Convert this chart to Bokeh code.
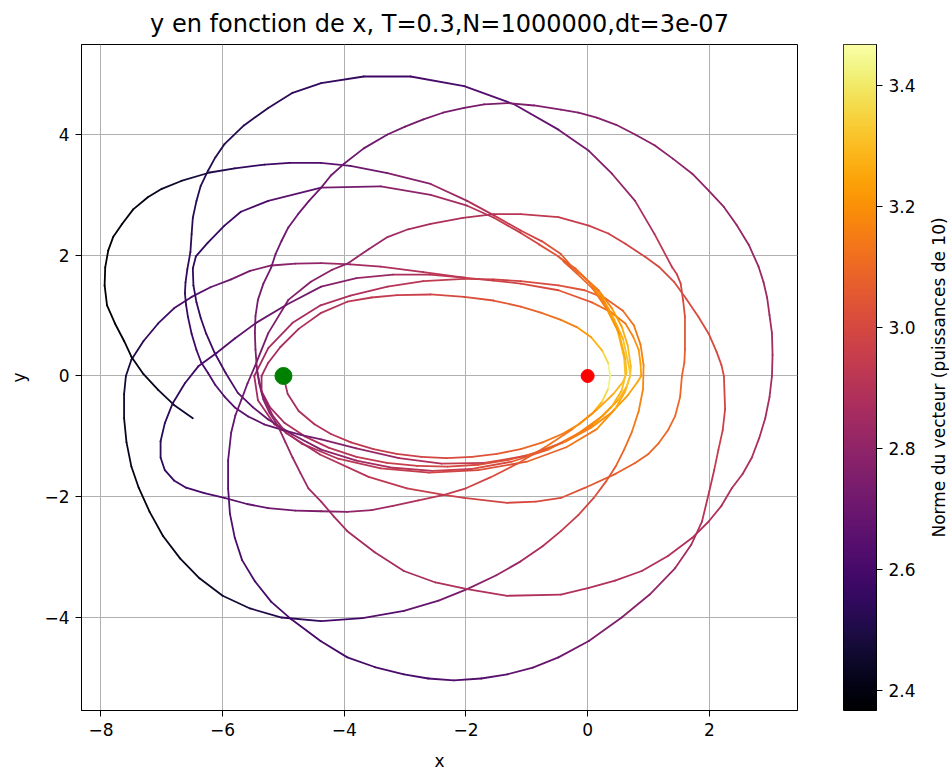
import math
import numpy as np
from bokeh.plotting import figure
from bokeh.models import Range1d, FixedTicker, ColumnDataSource
from bokeh.layouts import row
from bokeh.palettes import Inferno256
from bokeh.transform import linear_cmap
from bokeh.embed import file_html
from bokeh.resources import INLINE

title_text = "y en fonction de x, T=0.3,N=1000000,dt=3e-07"
cbar_label = "Norme du vecteur (puissances de 10)"
x_ticks = [-8, -6, -4, -2, 0, 2]
y_ticks = [-4, -2, 0, 2, 4]
cbar_ticks = [2.4, 2.6, 2.8, 3.0, 3.2, 3.4]
c_min, c_max = 2.367, 3.468

# ---- trajectory pieces: x, y, log10(speed) ----
inner_x = [-5.00,-4.93,-4.75,-4.49,-4.22,-3.89,-3.52,-3.14,-2.73,-2.32,-1.90,-1.49,-1.10,-0.74,-0.42,-0.14,0.08,0.24,0.34,0.37,
           0.34,0.24,0.06,-0.18,-0.44,-0.77,-1.10,-1.55,-2.03,-2.58,-3.13,-3.55,-3.95,-4.39,-4.75,-5.05,-5.25,-5.36,
           -5.36,-5.22,-4.98,-4.65,-4.25,-3.80,-3.30,-2.80,-2.30,-1.80,-1.30,-0.80,-0.35,0.05,0.40,0.66,0.82,0.88,
           0.87,0.84,0.75,0.62,0.38,0.07,-0.48,-1.10,-1.55,-2.03,-2.70,-3.40,-3.90,-4.38,-4.80,-5.20,
           -5.55,-5.86,-6.20,-6.51,-6.80,-7.06,-7.30,-7.50,-7.59,-7.62,-7.62,-7.58,-7.50,-7.38,-7.20,-6.98,-6.70,-6.38,-6.00,-5.55,-5.03,-4.38,-3.70,-3.02,-2.45,-1.98,-1.50,-1.10,-0.74,-0.44,-0.15,0.10,0.30,0.46,0.60,0.73,0.84,0.91,
           0.92,0.87,0.76,0.58,0.30,-0.05,-0.48,-1.10,-1.55,-2.03,-2.70,-3.29,-3.90,-4.39,-4.85,-5.25,-5.48]
inner_y = [0.00,-0.30,-0.58,-0.80,-0.96,-1.10,-1.21,-1.29,-1.34,-1.36,-1.34,-1.29,-1.21,-1.10,-0.96,-0.80,-0.62,-0.42,-0.21,0.00,
           0.21,0.42,0.64,0.81,0.93,1.05,1.15,1.25,1.31,1.35,1.34,1.30,1.23,1.04,0.78,0.48,0.22,0.00,
           -0.25,-0.52,-0.78,-1.00,-1.19,-1.34,-1.44,-1.49,-1.50,-1.47,-1.39,-1.26,-1.08,-0.86,-0.60,-0.32,-0.10,0.00,
           0.20,0.43,0.65,0.87,1.06,1.22,1.42,1.53,1.58,1.63,1.72,1.81,1.85,1.87,1.86,1.83,
           1.74,1.60,1.47,1.31,1.12,0.87,0.58,0.27,0.00,-0.30,-0.70,-1.10,-1.50,-1.85,-2.25,-2.65,-3.02,-3.35,-3.64,-3.85,-4.00,-4.06,-4.01,-3.89,-3.72,-3.53,-3.30,-3.07,-2.82,-2.57,-2.30,-2.02,-1.75,-1.50,-1.22,-0.92,-0.58,-0.22,
           0.18,0.52,0.84,1.08,1.28,1.42,1.50,1.57,1.60,1.61,1.57,1.48,1.33,1.17,0.88,0.46,0.00]
inner_v = [2.86,2.86,2.87,2.88,2.90,2.92,2.94,2.96,2.98,3.00,3.02,3.05,3.08,3.11,3.15,3.19,3.25,3.32,3.40,3.46,
           3.40,3.32,3.25,3.19,3.14,3.10,3.07,3.04,3.01,2.98,2.95,2.93,2.91,2.89,2.87,2.86,2.86,2.85,
           2.85,2.86,2.87,2.88,2.90,2.92,2.95,2.97,2.99,3.02,3.05,3.09,3.13,3.17,3.21,3.24,3.25,3.25,
           3.24,3.22,3.19,3.16,3.12,3.08,3.03,2.99,2.97,2.94,2.90,2.86,2.84,2.81,2.79,2.77,
           2.74,2.71,2.67,2.64,2.60,2.57,2.53,2.50,2.48,2.46,2.44,2.43,2.42,2.41,2.41,2.42,2.43,2.44,2.46,2.49,2.53,2.57,2.62,2.66,2.71,2.75,2.80,2.84,2.89,2.93,2.97,3.01,3.04,3.07,3.10,3.13,3.16,3.18,
           3.18,3.16,3.13,3.10,3.07,3.04,3.02,2.99,2.97,2.95,2.92,2.90,2.88,2.87,2.86,2.85,2.85]

arc_c_x = [-5.48,-5.42,-5.15,-4.70,-4.10,-3.40,-2.60,-1.80,-1.00,-0.35,0.15,0.45,0.62,0.70,0.71,0.66,0.56,0.40,0.18,-0.05,-0.26,-0.48,-0.80,-1.10,-1.54,-1.98,-2.58,-3.40,-4.38,-5.25,-5.70,-5.97,-6.25,-6.44,-6.49,-6.48,-6.43,-6.36,-6.27,-6.13,-5.95,-5.75,-5.50,-5.25,-4.85,-4.38,
           -3.80,-3.20,-2.55,-1.90,-1.25,-0.65,-0.15,0.25,0.50,0.64,0.70,0.68,0.58,0.40,0.18,-0.05,-0.26]
arc_c_y = [0.00,-0.40,-0.80,-1.12,-1.37,-1.53,-1.60,-1.56,-1.42,-1.18,-0.88,-0.55,-0.25,0.00,0.16,0.50,0.82,1.12,1.42,1.63,1.81,1.98,2.18,2.37,2.62,2.82,3.00,3.14,3.12,2.90,2.72,2.49,2.20,1.98,1.78,1.50,1.22,0.96,0.70,0.38,0.05,-0.28,-0.52,-0.72,-0.97,-1.22,
           -1.40,-1.52,-1.57,-1.54,-1.42,-1.22,-0.95,-0.66,-0.40,-0.18,0.00,0.16,0.62,1.02,1.40,1.63,1.81]
arc_c_v = [2.85,2.85,2.86,2.88,2.90,2.93,2.97,3.01,3.06,3.11,3.17,3.23,3.28,3.31,3.31,3.29,3.25,3.20,3.15,3.11,3.08,3.05,3.01,2.97,2.92,2.88,2.83,2.76,2.69,2.62,2.59,2.57,2.55,2.54,2.54,2.55,2.55,2.56,2.57,2.59,2.61,2.63,2.66,2.69,2.73,2.78,
           2.83,2.88,2.93,2.98,3.03,3.09,3.15,3.21,3.26,3.30,3.33,3.33,3.30,3.24,3.17,3.12,3.08]

last_x = [-0.26,-0.44,-0.75,-1.10,-1.54,-1.98,-2.58,-3.29,-3.90,-4.39,-4.90,-5.31,-5.80,-6.21,-6.68,-7.00,-7.23,-7.47,-7.65,-7.80,-7.88,-7.93,-7.94,-7.90,-7.77,-7.62,-7.50,-7.30,-7.06,-6.80,-6.49]
last_y = [1.81,2.02,2.23,2.41,2.66,2.90,3.18,3.36,3.48,3.53,3.53,3.50,3.44,3.37,3.23,3.10,2.96,2.76,2.52,2.30,2.08,1.80,1.50,1.17,0.87,0.58,0.32,0.03,-0.23,-0.48,-0.70]
last_v = [3.08,3.05,3.01,2.97,2.92,2.87,2.80,2.74,2.68,2.64,2.60,2.57,2.53,2.50,2.46,2.44,2.42,2.40,2.39,2.38,2.38,2.37,2.37,2.37,2.38,2.39,2.40,2.42,2.44,2.46,2.48]

loop_y_x = [-5.44,-5.35,-5.18,-4.95,-4.40,-3.60,-2.97,-2.36,-2.03,-1.32,-0.85,-0.44,-0.04,0.46,0.78,1.00,1.17,1.32,1.44,1.52,1.55,1.59,1.60,1.60,1.57,1.53,1.47,1.39,1.10,0.78,0.40,0.02,-0.48,-1.21,-2.03,-2.91,-3.68,-4.38,-4.85,-5.25,-5.65,-5.97,-6.12,-6.24,-6.36,-6.43,-6.49,-6.51,-6.53,-6.58,-6.61,-6.62,-6.60,-6.57,-6.51,-6.43,-6.35,-6.24,-6.12,-5.97,-5.80,-5.58,-5.32,-5.03,-4.70,-4.38,
            -3.80,-3.10,-2.40,-1.70,-1.00,-0.40,0.10,0.40,0.56,0.62,0.60,0.48,0.28,0.05,-0.20,-0.45]
loop_y_y = [0.10,-0.30,-0.65,-0.95,-1.30,-1.67,-1.86,-1.97,-2.02,-2.10,-2.08,-2.02,-1.85,-1.62,-1.44,-1.29,-1.11,-0.90,-0.66,-0.35,0.00,0.22,0.44,0.98,1.25,1.53,1.68,1.80,2.35,2.90,3.35,3.73,4.08,4.50,4.80,4.96,4.96,4.85,4.69,4.44,4.15,3.84,3.62,3.40,3.15,2.90,2.62,2.35,2.05,1.77,1.55,1.37,1.17,0.98,0.70,0.43,0.22,0.05,-0.15,-0.34,-0.52,-0.67,-0.80,-0.89,-0.98,-1.05,
            -1.20,-1.36,-1.45,-1.44,-1.32,-1.10,-0.80,-0.50,-0.24,0.00,0.30,0.80,1.20,1.53,1.78,1.95]
loop_y_v = [2.76,2.78,2.81,2.84,2.88,2.92,2.94,2.96,2.97,2.99,3.00,3.02,3.04,3.07,3.08,3.09,3.10,3.10,3.10,3.10,3.09,3.08,3.07,3.03,3.00,2.98,2.97,2.96,2.90,2.84,2.78,2.74,2.70,2.65,2.62,2.59,2.57,2.55,2.54,2.53,2.52,2.52,2.52,2.52,2.52,2.52,2.53,2.53,2.54,2.55,2.55,2.56,2.56,2.57,2.58,2.59,2.60,2.61,2.62,2.63,2.65,2.66,2.68,2.70,2.72,2.74,
            2.79,2.85,2.91,2.97,3.04,3.11,3.19,3.25,3.30,3.32,3.31,3.27,3.20,3.14,3.10,3.06]

loop_z_x = [-3.95,-3.60,-3.29,-2.95,-2.58,-2.05,-1.54,-1.10,-0.48,0.02,0.34,0.62,0.95,1.17,1.42,1.62,1.82,1.99,2.12,2.20,2.24,2.26,2.22,2.15,2.08,2.00,1.88,1.70,1.44,1.02,0.56,0.02,-0.48,-0.90,-1.32,-1.75,-2.20,-2.62,-3.02,-3.50,-3.95,-4.39,-4.87,-5.20,-5.47,-5.68,-5.80,-5.88,-5.91,-5.91,-5.86,-5.79,-5.69,-5.59,-5.47,-5.25,-4.92,-4.55,-4.20,-3.95]
loop_z_y = [1.86,2.10,2.30,2.43,2.52,2.62,2.68,2.68,2.63,2.49,2.36,2.19,1.97,1.81,1.56,1.28,0.98,0.70,0.40,0.18,0.00,-0.55,-0.90,-1.22,-1.56,-1.91,-2.41,-2.80,-3.18,-3.62,-4.00,-4.39,-4.66,-4.83,-4.94,-5.01,-5.04,-5.01,-4.94,-4.82,-4.66,-4.39,-4.03,-3.74,-3.40,-3.05,-2.68,-2.28,-1.86,-1.40,-0.94,-0.65,-0.39,-0.12,0.16,0.71,1.26,1.56,1.76,1.86]
loop_z_v = [2.80,2.82,2.84,2.86,2.87,2.89,2.90,2.92,2.94,2.96,2.97,2.98,2.99,3.00,3.00,3.01,3.01,3.01,3.00,3.00,3.00,2.98,2.97,2.95,2.93,2.92,2.89,2.87,2.84,2.80,2.77,2.73,2.70,2.68,2.66,2.64,2.63,2.62,2.61,2.60,2.60,2.60,2.60,2.60,2.61,2.61,2.62,2.63,2.64,2.65,2.67,2.68,2.70,2.71,2.72,2.74,2.76,2.77,2.79,2.80]

loop_x_x = [3.03,3.04,3.03,2.99,2.95,2.89,2.81,2.65,2.45,2.24,1.99,1.72,1.40,1.10,0.78,0.47,0.15,-0.15,-0.44,-0.88,-1.32,-1.70,-2.03,-2.38,-2.70,-3.00,-3.29,-3.68,-4.01,-4.22,-4.38,-4.58,-4.76,-4.92,-5.03,-5.13,-5.20,-5.33,-5.42,-5.46,-5.47,-5.46,-5.44,-5.40,-5.33,-5.23,-5.09,-4.97,-4.85,-4.72,-4.59,-4.38,-4.17,-3.95,-3.50,-3.02,-2.50,-1.98,-1.32,-0.44,0.02,0.45,0.89,1.32,1.72,1.99,2.20,2.37,2.55,2.70,2.82,2.92,2.99,3.03]
loop_x_y = [0.00,0.35,0.71,1.01,1.30,1.56,1.81,2.17,2.50,2.80,3.07,3.35,3.60,3.82,4.00,4.16,4.28,4.36,4.41,4.48,4.52,4.50,4.44,4.36,4.25,4.13,4.00,3.77,3.51,3.32,3.12,2.90,2.68,2.46,2.24,2.02,1.80,1.53,1.26,0.99,0.71,0.44,0.16,-0.12,-0.39,-0.61,-0.83,-1.09,-1.35,-1.61,-1.86,-2.08,-2.33,-2.57,-2.92,-3.23,-3.42,-3.53,-3.64,-3.62,-3.51,-3.39,-3.23,-2.98,-2.68,-2.41,-2.15,-1.86,-1.62,-1.35,-1.03,-0.70,-0.35,0.00]
loop_x_v = [2.86,2.86,2.85,2.85,2.84,2.84,2.83,2.82,2.81,2.80,2.80,2.79,2.79,2.78,2.78,2.77,2.77,2.76,2.76,2.75,2.75,2.74,2.74,2.73,2.73,2.72,2.72,2.71,2.71,2.71,2.71,2.71,2.71,2.71,2.71,2.71,2.72,2.72,2.73,2.73,2.74,2.75,2.76,2.77,2.78,2.79,2.80,2.81,2.82,2.83,2.84,2.85,2.85,2.86,2.86,2.87,2.87,2.88,2.88,2.89,2.89,2.89,2.89,2.89,2.89,2.89,2.89,2.88,2.88,2.88,2.87,2.87,2.86,2.86]

arc_q_x = [-2.03,-2.60,-3.20,-3.80,-4.38,-4.95,-5.45,-5.80,-6.10,-6.40,-6.62,-6.82,-6.95,-7.02,-7.02,-6.95,-6.80,-6.60,-6.30,-5.97,-5.60,-5.25,-4.80,-4.38,-3.95,-3.55,-3.20,-2.78,-2.36,-2.00,-1.60,-1.15,-0.70,-0.25,0.15,0.42,0.58,0.64,0.62,0.52,0.32,0.08,-0.18,-0.40]
arc_q_y = [1.63,1.68,1.68,1.62,1.48,1.18,0.88,0.62,0.38,0.16,-0.12,-0.45,-0.78,-1.08,-1.35,-1.56,-1.73,-1.85,-1.94,-2.02,-2.12,-2.19,-2.23,-2.24,-2.25,-2.22,-2.15,-2.06,-1.97,-1.86,-1.68,-1.45,-1.18,-0.88,-0.56,-0.30,-0.10,0.05,0.28,0.70,1.10,1.45,1.70,1.90]
arc_q_v = [2.94,2.90,2.85,2.80,2.75,2.71,2.68,2.65,2.62,2.59,2.56,2.54,2.53,2.53,2.53,2.54,2.56,2.58,2.61,2.64,2.67,2.70,2.73,2.76,2.79,2.82,2.85,2.89,2.93,2.96,3.00,3.05,3.10,3.16,3.22,3.27,3.30,3.31,3.29,3.24,3.18,3.12,3.08,3.05]

pieces = [(inner_x, inner_y, inner_v), (arc_c_x, arc_c_y, arc_c_v), (last_x, last_y, last_v),
          (loop_y_x, loop_y_y, loop_y_v), (loop_z_x, loop_z_y, loop_z_v), (loop_x_x, loop_x_y, loop_x_v),
          (arc_q_x, arc_q_y, arc_q_v)]

x0, y0, x1, y1, cc = [], [], [], [], []
for px, py, pv in pieces:
    for i in range(len(px) - 1):
        x0.append(px[i]); y0.append(py[i]); x1.append(px[i + 1]); y1.append(py[i + 1])
        cc.append(0.5 * (pv[i] + pv[i + 1]))
seg = ColumnDataSource(dict(x0=x0, y0=y0, x1=x1, y1=y1, c=cc))

FONT = "DejaVu Sans"
TICK_SIZE = "17px"
LABEL_SIZE = "17px"


def minus(t):
    return ("\u2212" + str(abs(t))) if t < 0 else str(t)


p = figure(width=820, height=774, x_range=Range1d(-8.32, 3.45), y_range=Range1d(-5.54, 5.49),
           output_backend="svg", toolbar_location=None,
           min_border_left=81, min_border_right=23, min_border_top=42, min_border_bottom=64,
           title=title_text)
p.title.align = "center"
p.title.vertical_align = "top"
p.title.text_font = FONT
p.title.text_font_style = "normal"
p.title.text_font_size = "24px"
p.title.text_color = "black"
p.title.standoff = 10
p.outline_line_color = "black"
p.outline_line_width = 1
p.background_fill_color = "white"
p.border_fill_color = "white"

p.xaxis.ticker = FixedTicker(ticks=x_ticks)
p.yaxis.ticker = FixedTicker(ticks=y_ticks)
p.xaxis.major_label_overrides = {t: minus(t) for t in x_ticks}
p.yaxis.major_label_overrides = {t: minus(t) for t in y_ticks}
p.xaxis.axis_label = "x"
p.yaxis.axis_label = "y"
for ax in (p.xaxis, p.yaxis):
    ax.major_label_text_font = FONT
    ax.major_label_text_font_size = TICK_SIZE
    ax.major_label_text_color = "black"
    ax.axis_label_text_font = FONT
    ax.axis_label_text_font_size = LABEL_SIZE
    ax.axis_label_text_font_style = "normal"
    ax.axis_label_text_color = "black"
    ax.major_tick_out = 6
    ax.major_tick_in = 0
    ax.minor_tick_line_color = None
    ax.axis_line_color = "black"
    ax.major_tick_line_color = "black"
    ax.major_label_standoff = 6
    ax.axis_label_standoff = 12
p.grid.grid_line_color = "#b0b0b0"
p.grid.grid_line_width = 1

p.segment("x0", "y0", "x1", "y1", source=seg, line_width=1.8, line_cap="round",
          color=linear_cmap("c", Inferno256, c_min, c_max))

p.scatter([0], [0], size=13, color="red")
p.scatter([-5], [0], size=17, color="green")

# colour bar (gradient + right-hand ticks)
cb = figure(width=99, height=774, x_range=Range1d(0, 1), y_range=Range1d(c_min, c_max),
            output_backend="svg", toolbar_location=None, x_axis_location=None, y_axis_location="right",
            min_border_left=23, min_border_right=43, min_border_top=44, min_border_bottom=64)
grad = np.linspace(c_min, c_max, 256).reshape(256, 1)
cb.image(image=[grad], x=0, y=c_min, dw=1, dh=c_max - c_min, palette=Inferno256)
cb.grid.visible = False
cb.outline_line_color = "black"
cb.yaxis.ticker = FixedTicker(ticks=cbar_ticks)
cb.yaxis.major_label_overrides = {t: f"{t:.1f}" for t in cbar_ticks}
cb.yaxis.major_label_text_font = FONT
cb.yaxis.major_label_text_font_size = TICK_SIZE
cb.yaxis.major_label_text_color = "black"
cb.yaxis.major_tick_out = 6
cb.yaxis.major_tick_in = 0
cb.yaxis.major_label_standoff = 6
cb.yaxis.minor_tick_line_color = None
cb.yaxis.axis_line_color = "black"

# colour bar label, read from bottom to top
lab = figure(width=30, height=774, x_range=Range1d(0, 1), y_range=Range1d(c_min, c_max),
             output_backend="svg", toolbar_location=None, x_axis_location=None, y_axis_location="left",
             min_border_left=29, min_border_right=0, min_border_top=44, min_border_bottom=64)
lab.grid.visible = False
lab.outline_line_color = None
lab.yaxis.ticker = FixedTicker(ticks=[])
lab.yaxis.axis_line_color = None
lab.yaxis.major_tick_line_color = None
lab.yaxis.minor_tick_line_color = None
lab.yaxis.major_tick_out = 0
lab.yaxis.major_label_standoff = 0
lab.yaxis.axis_label = cbar_label
lab.yaxis.axis_label_standoff = 0
lab.yaxis.axis_label_text_font = FONT
lab.yaxis.axis_label_text_font_size = LABEL_SIZE
lab.yaxis.axis_label_text_font_style = "normal"
lab.yaxis.axis_label_text_color = "black"

layout = row(p, cb, lab)
open("out.html", "w").write(file_html(layout, INLINE))
